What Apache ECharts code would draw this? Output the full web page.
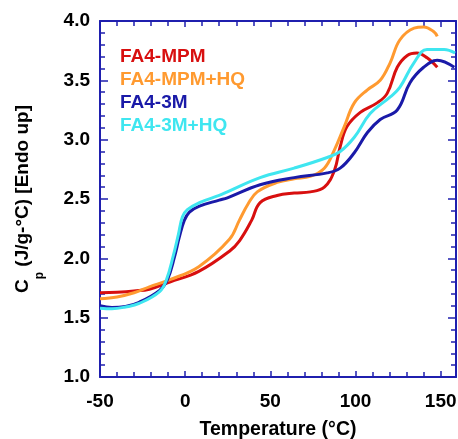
<!DOCTYPE html>
<html><head><meta charset="utf-8">
<script src="https://cdn.jsdelivr.net/npm/echarts@6/dist/echarts.min.js"></script>
<style>html,body{margin:0;padding:0;background:#fff}#c{width:458px;height:439px}</style>
</head><body><div id="c"></div>
<script>
const seriesNames = ['FA4-MPM', 'FA4-MPM+HQ', 'FA4-3M', 'FA4-3M+HQ'];
const seriesColors = ['#d80f0f', '#ff9a30', '#1a1aa8', '#3fe6f0'];

const mpmX = [-50, -40, -30, -21, -9, 8, 26, 32, 39, 44, 54, 64, 73.5, 81.7, 87.6, 91, 95, 102.8, 112.7, 118.6, 124.5, 130.4, 136, 142, 148];
const mpmY = [1.71, 1.715, 1.725, 1.74, 1.80, 1.89, 2.06, 2.15, 2.32, 2.47, 2.53, 2.55, 2.56, 2.60, 2.74, 2.94, 3.11, 3.23, 3.31, 3.39, 3.61, 3.71, 3.73, 3.69, 3.61];

const mpmhqX = [-50, -40, -30, -21, -9, 8, 26, 31.8, 37, 42.3, 54, 64, 73.4, 81.7, 87.5, 93.4, 99.3, 107, 114.5, 120.4, 126, 134.4, 140, 146, 148];
const mpmhqY = [1.66, 1.675, 1.71, 1.76, 1.82, 1.93, 2.16, 2.32, 2.46, 2.56, 2.64, 2.67, 2.69, 2.76, 2.91, 3.11, 3.31, 3.42, 3.50, 3.65, 3.84, 3.94, 3.95, 3.91, 3.87];

const m3X = [-50, -43, -35, -27, -15, -10.4, -6.3, -3.4, -0.5, 2.5, 8.4, 20, 24.8, 44, 64, 83.4, 91, 99.3, 107, 114.5, 124.5, 132, 140, 148, 158];
const m3Y = [1.60, 1.585, 1.595, 1.63, 1.73, 1.82, 2.01, 2.18, 2.32, 2.39, 2.44, 2.49, 2.51, 2.62, 2.68, 2.72, 2.76, 2.89, 3.06, 3.17, 3.25, 3.48, 3.61, 3.67, 3.61];

const m3hqX = [-50, -43, -35, -27, -15, -11, -7, -4, -1.6, 1.3, 8.4, 20, 24.8, 44, 64, 83.4, 91, 99.3, 108.6, 120.4, 126, 134.4, 142, 152, 158.5];
const m3hqY = [1.58, 1.575, 1.59, 1.62, 1.72, 1.82, 2.02, 2.20, 2.35, 2.41, 2.47, 2.53, 2.56, 2.68, 2.76, 2.85, 2.90, 3.02, 3.22, 3.36, 3.44, 3.65, 3.76, 3.76, 3.73];

const xTicks = [-50, 0, 50, 100, 150];
const yTicks = ['1.0', '1.5', '2.0', '2.5', '3.0', '3.5', '4.0'];

const allX = [mpmX, mpmhqX, m3X, m3hqX];
const allY = [mpmY, mpmhqY, m3Y, m3hqY];

const axisColor = '#1f1fae';
const FONT = '"Liberation Sans", Arial, sans-serif';

const chart = echarts.init(document.getElementById('c'), null, {renderer: 'canvas'});
const commonX = {
  type: 'value', min: -50, max: 159, interval: 50,
  axisLine: {show: true, onZero: false, lineStyle: {color: axisColor, width: 2}},
  axisTick: {show: true, inside: true, length: 6, lineStyle: {color: axisColor, width: 1.5}},
  minorTick: {show: true, splitNumber: 5, length: 5, lineStyle: {color: axisColor, width: 1.5}},
  splitLine: {show: false}
};
const commonY = {
  type: 'value', min: 1.0, max: 4.0, interval: 0.5,
  axisLine: {show: true, onZero: false, lineStyle: {color: axisColor, width: 2}},
  axisTick: {show: true, inside: true, length: 8, lineStyle: {color: axisColor, width: 1.5}},
  minorTick: {show: true, splitNumber: 5, length: 5, lineStyle: {color: axisColor, width: 1.5}},
  splitLine: {show: false}
};

const option = {
  animation: false,
  grid: {left: 100, right: 2, top: 21, bottom: 62, containLabel: false, outerBoundsMode: 'none'},
  legend: {
    orient: 'vertical', left: 110, top: 42, itemGap: 4,
    icon: 'none', itemWidth: 0, itemHeight: 19,
    textStyle: {fontFamily: FONT, fontWeight: 'bold', fontSize: 19},
    data: seriesNames.map((n, i) => ({name: n, textStyle: {color: seriesColors[i]}}))
  },
  xAxis: [
    Object.assign({}, commonX, {
      position: 'bottom',
      name: 'Temperature (°C)', nameLocation: 'middle', nameGap: 43,
      nameTextStyle: {fontFamily: FONT, fontWeight: 'bold', fontSize: 19.5, color: '#000'},
      axisLabel: {show: true, margin: 15, fontFamily: FONT, fontWeight: 'bold', fontSize: 19, color: '#000',
        showMaxLabel: false,
        formatter: v => xTicks.indexOf(v) >= 0 ? String(v) : ''}
    }),
    Object.assign({}, commonX, {position: 'top', axisLabel: {show: false}})
  ],
  yAxis: [
    Object.assign({}, commonY, {
      position: 'left',
      name: '{m|C}{s|p}{m| (J/g-°C) [Endo up]}', nameLocation: 'middle', nameGap: 54,
      nameTextStyle: {
        color: '#000',
        rich: {
          m: {fontFamily: FONT, fontWeight: 'bold', fontSize: 19, color: '#000', verticalAlign: 'top', lineHeight: 22},
          s: {fontFamily: FONT, fontWeight: 'bold', fontSize: 12, color: '#000', verticalAlign: 'bottom', lineHeight: 33}
        }
      },
      axisLabel: {show: true, margin: 10, fontFamily: FONT, fontWeight: 'bold', fontSize: 19, color: '#000',
        formatter: v => yTicks.indexOf(v.toFixed(1)) >= 0 ? v.toFixed(1) : ''}
    }),
    Object.assign({}, commonY, {position: 'right', axisLabel: {show: false}})
  ],
  series: seriesNames.map((n, i) => ({
    name: n, type: 'line', smooth: 0.4, showSymbol: false, symbol: 'none',
    xAxisIndex: 0, yAxisIndex: 0,
    lineStyle: {color: seriesColors[i], width: 3},
    itemStyle: {color: seriesColors[i]},
    data: allX[i].map((x, k) => [x, allY[i][k]])
  }))
};
chart.setOption(option);
</script>
</body></html>
